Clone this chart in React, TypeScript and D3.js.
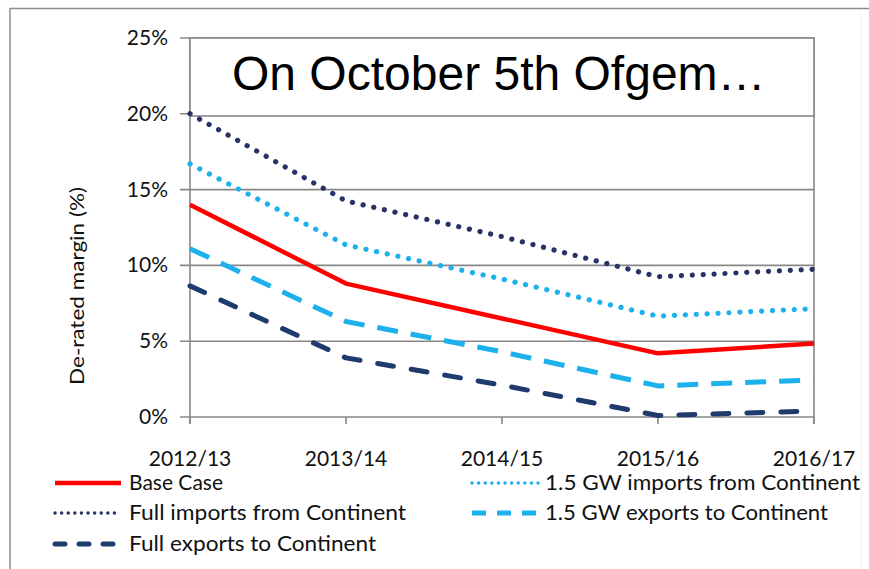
import React from "react";
import * as d3 from "d3";

const categories = ["2012/13", "2013/14", "2014/15", "2015/16", "2016/17"];
const yTicks = [0, 5, 10, 15, 20, 25];

const baseCase = [14.0, 8.8, 6.5, 4.2, 4.85];
const gw15Imports = [16.7, 11.35, 9.1, 6.65, 7.15];
const fullImports = [20.0, 14.25, 11.9, 9.25, 9.75];
const gw15Exports = [11.1, 6.3, 4.3, 2.05, 2.45];
const fullExports = [8.65, 3.9, 2.1, 0.1, 0.4];

const seriesNames = [
  "Base Case",
  "1.5 GW imports from Continent",
  "Full imports from Continent",
  "1.5 GW exports to Continent",
  "Full exports to Continent",
];

const W = 869;
const H = 569;
const FONT = "Lato, 'Open Sans', sans-serif";

type Style = {
  color: string;
  width: number;
  dash?: string;
  cap: "round" | "butt";
  legendDash?: string;
  legendWidth?: number;
};

const styles: Style[] = [
  { color: "#ff0000", width: 4.5, cap: "butt" },
  { color: "#1cb0ec", width: 5.2, dash: "0.1 10.8", cap: "round", legendDash: "0.1 6.5", legendWidth: 3.4 },
  { color: "#283266", width: 5.2, dash: "0.1 10.8", cap: "round", legendDash: "0.1 6.5", legendWidth: 3.4 },
  { color: "#1cb0ec", width: 5, dash: "21 13", cap: "butt", legendDash: "14 11", legendWidth: 5 },
  { color: "#1f3a6c", width: 5, dash: "16 18", cap: "round", legendDash: "10 14", legendWidth: 5 },
];

const seriesData = [baseCase, gw15Imports, fullImports, gw15Exports, fullExports];

export default function App() {
  const x = d3.scalePoint<string>().domain(categories).range([190, 814]);
  const y = d3.scaleLinear().domain([0, 25]).range([417, 38]);
  const line = d3
    .line<number>()
    .x((_, i) => x(categories[i]) as number)
    .y((d) => y(d));

  const grid = "#878787";
  const drawOrder = [2, 1, 0, 3, 4];

  const legendItems = [
    { idx: 0, lx: 55, tx: 129, base: 490, len: 94 },
    { idx: 2, lx: 55, tx: 129, base: 520, len: 277 },
    { idx: 4, lx: 55, tx: 129, base: 551, len: 247 },
    { idx: 1, lx: 472, tx: 545, base: 490, len: 315 },
    { idx: 3, lx: 472, tx: 545, base: 520, len: 283 },
  ];

  return (
    <svg
      width={W}
      height={H}
      style={{ position: "absolute", left: 0, top: 0, display: "block", background: "#fff" }}
    >
      {/* outer frame */}
      <line x1={10} y1={8.5} x2={W} y2={8.5} stroke="#8c8c8c" strokeWidth={1.5} />
      <line x1={10} y1={8} x2={10} y2={H} stroke="#8c8c8c" strokeWidth={1.5} />
      <line x1={861} y1={12} x2={861} y2={H} stroke="#f0f0f0" strokeWidth={1} />

      {/* gridlines and y ticks */}
      {yTicks.map((t) => (
        <g key={t}>
          <line x1={180} x2={814} y1={y(t)} y2={y(t)} stroke={grid} strokeWidth={1.6} />
          <text
            x={168}
            y={y(t) + 7}
            textAnchor="end"
            fontFamily={FONT}
            fontSize={21}
            fill="#111"
          >
            {t}%
          </text>
        </g>
      ))}
      {/* axes */}
      <line x1={190} x2={190} y1={y(25)} y2={y(0) + 7} stroke={grid} strokeWidth={1.6} />
      <line x1={814} x2={814} y1={y(25)} y2={y(0) + 7} stroke={grid} strokeWidth={1.6} />
      {categories.map((c) => (
        <g key={c}>
          <line
            x1={x(c)}
            x2={x(c)}
            y1={y(0)}
            y2={y(0) + 7}
            stroke={grid}
            strokeWidth={1.6}
          />
          <text
            x={x(c)}
            y={466}
            textAnchor="middle"
            fontFamily={FONT}
            fontSize={21}
            fill="#111"
          >
            {c}
          </text>
        </g>
      ))}

      {/* y axis label */}
      <text
        transform="translate(84,286) rotate(-90)"
        textAnchor="middle"
        fontFamily={FONT}
        fontSize={20}
        textLength={198}
        lengthAdjust="spacingAndGlyphs"
        fill="#111"
      >
        De-rated margin (%)
      </text>

      {/* title box */}
      <rect x={190} y={38} width={624} height={78} fill="#fff" stroke={grid} strokeWidth={1.6} />
      <text
        x={232}
        y={90}
        fontFamily="'Liberation Sans', Arial, sans-serif"
        fontSize={48}
        fill="#000"
      >
        On October 5th Ofgem…
      </text>

      {/* series lines */}
      {drawOrder.map((i) => {
        const s = styles[i];
        return (
          <path
            key={i}
            d={line(seriesData[i]) || ""}
            fill="none"
            stroke={s.color}
            strokeWidth={s.width}
            strokeDasharray={s.dash}
            strokeLinecap={s.cap}
            strokeLinejoin="round"
          />
        );
      })}

      {/* legend */}
      {legendItems.map((it) => {
        const s = styles[it.idx];
        return (
          <g key={it.idx}>
            <line
              x1={it.lx}
              x2={it.lx + 66}
              y1={it.base - 7}
              y2={it.base - 7}
              stroke={s.color}
              strokeWidth={s.legendWidth ?? s.width}
              strokeDasharray={s.legendDash}
              strokeLinecap={s.cap}
            />
            <text
              x={it.tx}
              y={it.base}
              fontFamily={FONT}
              fontSize={21.5}
              textLength={it.len}
              lengthAdjust="spacingAndGlyphs"
              fill="#111"
            >
              {seriesNames[it.idx]}
            </text>
          </g>
        );
      })}
    </svg>
  );
}
